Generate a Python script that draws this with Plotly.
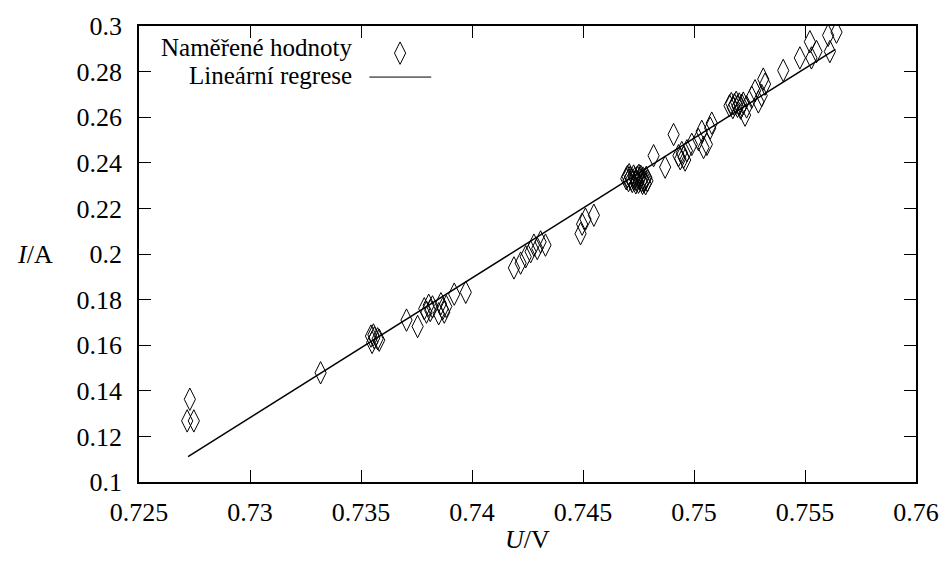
import plotly.graph_objects as go

U_meas = [
    0.72729, 0.72717, 0.72747, 0.73318,
    0.73545, 0.73550, 0.73560, 0.73575, 0.73582, 0.73556,
    0.73705, 0.73755,
    0.73785, 0.73795, 0.73805, 0.73812, 0.73822, 0.73850, 0.73860, 0.73868, 0.73875, 0.73884,
    0.73920, 0.73972,
    0.74189, 0.74219, 0.74242, 0.74264, 0.74279, 0.74294, 0.74309, 0.74331,
    0.74489, 0.74496, 0.74511, 0.74549,
    0.74695, 0.74700, 0.74705, 0.74712, 0.74718, 0.74722, 0.74728, 0.74733, 0.74740, 0.74745,
    0.74750, 0.74755, 0.74760, 0.74765, 0.74770, 0.74775, 0.74780, 0.74785, 0.74790, 0.74738,
    0.74752, 0.74768, 0.74708, 0.74782,
    0.74818, 0.74870, 0.74908, 0.74930, 0.74945, 0.74953, 0.74938, 0.74960, 0.74968, 0.74990,
    0.75020, 0.75035, 0.75043, 0.75058, 0.75073, 0.75080,
    0.75160, 0.75168, 0.75175, 0.75182, 0.75190, 0.75196, 0.75204, 0.75210, 0.75216, 0.75222,
    0.75230, 0.75237, 0.75260, 0.75275, 0.75290, 0.75305, 0.75320, 0.75312,
    0.75402, 0.75477, 0.75522, 0.75529, 0.75552, 0.75604, 0.75612, 0.75642,
]
I_meas = [
    0.1363, 0.1268, 0.1268, 0.1479,
    0.1640, 0.1612, 0.1632, 0.1628, 0.1622, 0.1645,
    0.1710, 0.1682,
    0.1760, 0.1745, 0.1775, 0.1752, 0.1768, 0.1738, 0.1782, 0.1760, 0.1745, 0.1770,
    0.1824, 0.1832,
    0.1939, 0.1960, 0.1988, 0.2010, 0.2039, 0.2024, 0.2053, 0.2039,
    0.2089, 0.2131, 0.2153, 0.2170,
    0.2330, 0.2340, 0.2322, 0.2335, 0.2328, 0.2318, 0.2342, 0.2331, 0.2324, 0.2338,
    0.2315, 0.2329, 0.2341, 0.2322, 0.2333, 0.2318, 0.2327, 0.2336, 0.2321, 0.2312,
    0.2345, 0.2310, 0.2348, 0.2308,
    0.2431, 0.2381, 0.2524, 0.2431, 0.2445, 0.2424, 0.2418, 0.2412, 0.2453, 0.2481,
    0.2502, 0.2538, 0.2467, 0.2481, 0.2552, 0.2574,
    0.2650, 0.2660, 0.2642, 0.2655, 0.2665, 0.2648, 0.2658, 0.2640, 0.2652, 0.2662,
    0.2609, 0.2645, 0.2688, 0.2716, 0.2667, 0.2695, 0.2745, 0.2767,
    0.2805, 0.2860, 0.2931, 0.2860, 0.2888, 0.2959, 0.2888, 0.2973,
]

# Linear regression line end points
U_fit = [0.72721, 0.75637]
I_fit = [0.1111, 0.2898]

x_ticks = [0.725, 0.73, 0.735, 0.74, 0.745, 0.75, 0.755, 0.76]
x_ticktext = ["0.725", "0.73", "0.735", "0.74", "0.745", "0.75", "0.755", "0.76"]
y_ticks = [0.1, 0.12, 0.14, 0.16, 0.18, 0.2, 0.22, 0.24, 0.26, 0.28, 0.3]
y_ticktext = ["0.1", "0.12", "0.14", "0.16", "0.18", "0.2", "0.22", "0.24", "0.26", "0.28", "0.3"]

legend_labels = ["Naměřené hodnoty", "Lineární regrese"]

FONT = "Liberation Serif, DejaVu Serif, serif"
FS = 26
marker_style = dict(symbol="diamond-tall-open", size=16, color="black",
                    line=dict(color="black", width=1))

L, R, T, B = 139, 33, 16, 81
W, H = 951, 563
PW, PH = W - L - R, H - T - B

fig = go.Figure()
fig.add_trace(go.Scatter(x=U_meas, y=I_meas, mode="markers", marker=marker_style,
                         name=legend_labels[0], showlegend=False))
fig.add_trace(go.Scatter(x=U_fit, y=I_fit, mode="lines",
                         line=dict(color="black", width=1.5),
                         name=legend_labels[1], showlegend=False))

# legend key (gnuplot style: text on the left, sample on the right)
fig.add_trace(go.Scatter(x=[0.336], y=[0.9405], xaxis="x2", yaxis="y2", mode="markers",
                         marker=marker_style, showlegend=False, hoverinfo="skip"))
fig.add_trace(go.Scatter(x=[0.2965, 0.3761], y=[0.888, 0.888], xaxis="x2", yaxis="y2",
                         mode="lines", line=dict(color="black", width=1),
                         showlegend=False, hoverinfo="skip"))

axis_common = dict(showline=True, linecolor="black", linewidth=1.5, mirror="ticks",
                   ticks="inside", ticklen=12, tickwidth=1, tickcolor="black",
                   showgrid=False, zeroline=False,
                   tickfont=dict(family=FONT, size=FS, color="black"))

LFS = 25
fig.update_layout(
    width=W, height=H,
    margin=dict(l=L, r=R, t=T, b=B),
    paper_bgcolor="white", plot_bgcolor="white",
    font=dict(family=FONT, size=FS, color="black"),
    xaxis=dict(range=[0.725, 0.76], tickvals=x_ticks, ticktext=x_ticktext,
               ticklabelstandoff=6, **axis_common),
    yaxis=dict(range=[0.1, 0.3], tickvals=y_ticks, ticktext=y_ticktext,
               ticklabelstandoff=10, **axis_common),
    xaxis2=dict(range=[0, 1], overlaying="x", visible=False, fixedrange=True),
    yaxis2=dict(range=[0, 1], overlaying="y", visible=False, fixedrange=True),
    annotations=[
        dict(text=legend_labels[0], x=(355 - L) / PW, y=(H - B - 38) / PH,
             xref="paper", yref="paper", xanchor="right", yanchor="middle",
             showarrow=False, font=dict(family=FONT, size=LFS, color="black")),
        dict(text=legend_labels[1], x=(355 - L) / PW, y=(H - B - 67) / PH,
             xref="paper", yref="paper", xanchor="right", yanchor="middle",
             showarrow=False, font=dict(family=FONT, size=LFS, color="black")),
        dict(text="<i>I</i>/A", x=-(L - 35) / PW, y=0.5, xref="paper", yref="paper",
             xanchor="center", yanchor="middle", showarrow=False,
             font=dict(family=FONT, size=FS, color="black")),
        dict(text="<i>U</i>/V", x=0.5, y=-0.125, xref="paper", yref="paper",
             xanchor="center", yanchor="middle", showarrow=False,
             font=dict(family=FONT, size=FS, color="black")),
    ],
)

# remove the browser's default 8px body margin so the figure fills the window
fig.write_html("out.html",
               config={"displayModeBar": False},
               post_script="document.body.style.margin='0';document.body.style.overflow='hidden';")
